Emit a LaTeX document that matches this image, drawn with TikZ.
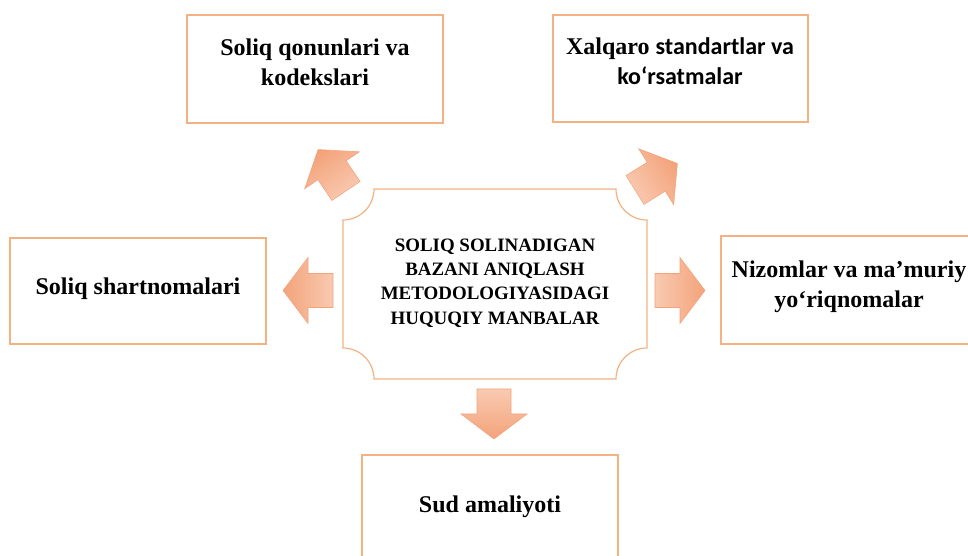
\documentclass[tikz,border=0pt]{standalone}
\usepackage{fontspec}
\setmainfont{Liberation Serif}
\newfontfamily\carlito{Carlito}
\definecolor{boxline}{RGB}{244,177,131}
\definecolor{arrdark}{RGB}{243,163,122}
\definecolor{arrlight}{RGB}{249,202,178}
\tikzset{
  box/.style={draw=boxline, line width=1.1pt},
  plaque/.style={draw=boxline, line width=0.9pt},
  txt/.style={align=center, inner sep=0pt, font=\bfseries\fontsize{18}{22.5}\selectfont},
  midtxt/.style={align=center, inner sep=0pt, font=\bfseries\fontsize{14.2}{18.3}\selectfont}
}
% block arrow: tail centre x, y, direction
\newcommand{\blockarrow}[3]{%
  \pgfmathsetmacro{\arrang}{#3-90}%
  \begin{scope}[shift={(#1,#2)},rotate=#3]
    \shade[top color=arrdark, bottom color=arrlight, shading angle=\arrang,
           draw=arrdark, line width=0.4pt]
      (0,-17) -- (25,-17) -- (25,-33) -- (50,0) -- (25,33) -- (25,17) -- (0,17) -- cycle;
  \end{scope}}
\begin{document}
\begin{tikzpicture}[x=0.75pt,y=0.75pt]
  \useasboundingbox (0,0) rectangle (968,556);
  % centre
  \draw[plaque] (374,367) -- (616,367) arc[start angle=180,end angle=270,radius=31]
    -- (647,208) arc[start angle=90,end angle=180,radius=31]
    -- (374,177) arc[start angle=0,end angle=90,radius=31]
    -- (343,336) arc[start angle=-90,end angle=0,radius=31] -- cycle;
  \node[midtxt] (manba) at (495,273) {SOLIQ SOLINADIGAN\\BAZANI ANIQLASH\\METODOLOGIYASIDAGI\\HUQUQIY MANBALAR};
  % boxes
  \draw[box] (187,433) rectangle (443,541);
  \node[txt] (qonun) at (315,494) {Soliq qonunlari va\\kodekslari};
  \draw[box] (553,434) rectangle (808,541);
  \node[txt] (xalqaro) at (680,494.5) {Xalqaro {\carlito standartlar va}\\{\carlito ko‘rsatmalar}};
  \draw[box] (10,212) rectangle (266,318);
  \node[txt] (shartnoma) at (138,267.5) {Soliq shartnomalari};
  \draw[box] (721,212) rectangle (980,320);
  \node[txt] (nizom) at (849,269) {Nizomlar va ma’muriy\\yo‘riqnomalar};
  \draw[box] (362,-10) rectangle (618,101);
  \node[txt] (sud) at (490,49) {Sud amaliyoti};
  % arrows
  \blockarrow{346}{365}{124}
  \blockarrow{635}{366}{32}
  \blockarrow{333}{265.5}{180}
  \blockarrow{655}{265.5}{0}
  \blockarrow{494}{167}{-90}
\end{tikzpicture}
\end{document}
